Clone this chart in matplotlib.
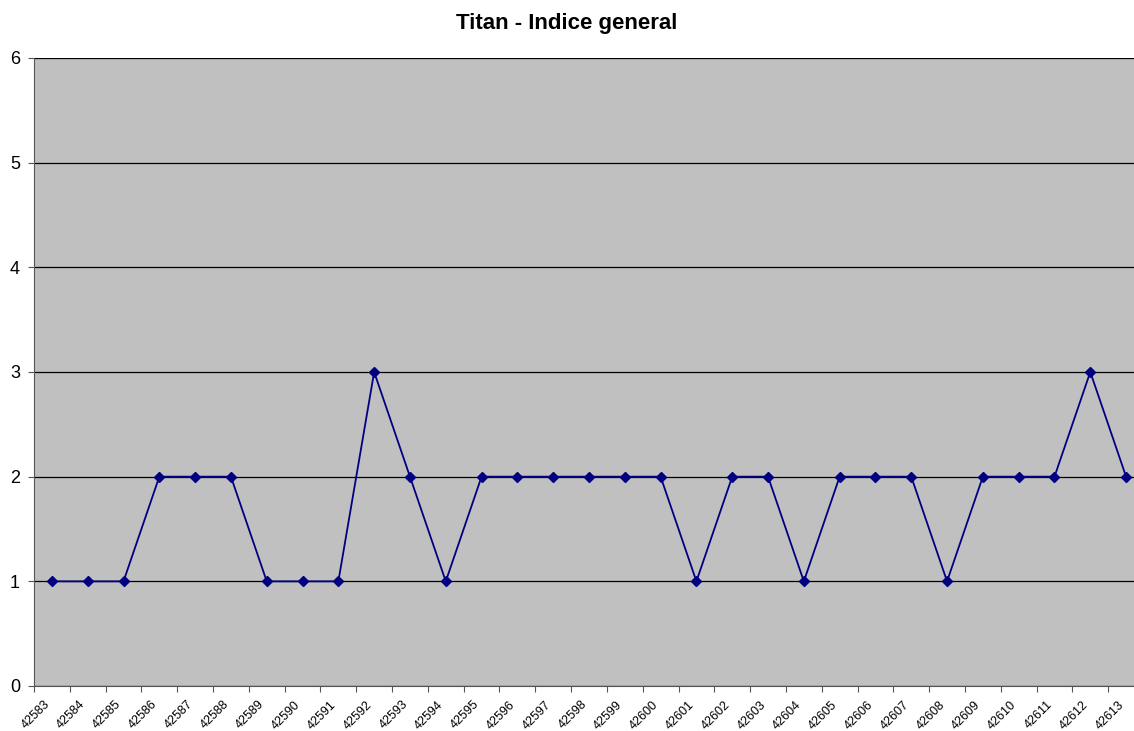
import matplotlib
matplotlib.use("Agg")
from matplotlib import pyplot as plt

plt.rcParams['font.family'] = ['Liberation Sans', 'DejaVu Sans']

dates = [str(d) for d in range(42583, 42614)]
values = [1, 1, 1, 2, 2, 2, 1, 1, 1, 3, 2, 1, 2, 2, 2, 2, 2, 2, 1, 2, 2, 1,
          2, 2, 2, 1, 2, 2, 2, 3, 2]
y_ticks = [0, 1, 2, 3, 4, 5, 6]


def main():
    fig = plt.figure(figsize=(11.34, 7.31), dpi=100)
    # plot area runs a little past the right edge of the image, as in the original
    ax = fig.add_axes([34 / 1134, 45 / 731, 1110 / 1134, 628 / 731])
    ax.set_facecolor('#C0C0C0')

    x = range(len(values))
    ax.plot(x, values, color='#000080', linewidth=1.3, marker='D',
            markersize=5.5, zorder=3, clip_on=False)

    ax.set_xlim(-0.5, len(values) - 0.5)
    ax.set_ylim(0, 6)
    ax.set_yticks(y_ticks)
    ax.set_yticklabels([str(v) for v in y_ticks], fontsize=13)
    ax.yaxis.grid(True, color='black', linewidth=0.9)
    ax.set_axisbelow(True)

    # ticks between categories, labels at category centres
    ax.set_xticks([i - 0.5 for i in range(len(values) + 1)])
    ax.set_xticklabels([])
    ax.set_xticks(list(x), minor=True)
    ax.set_xticklabels(dates, minor=True, rotation=45, ha='right',
                       va='top', fontsize=9)
    ax.tick_params(axis='x', which='minor', length=0, pad=9)
    ax.tick_params(axis='x', which='major', length=4, color='#555555')
    ax.tick_params(axis='y', length=4, color='#555555', pad=6)

    for side in ['top', 'right']:
        ax.spines[side].set_visible(False)
    ax.spines['left'].set_color('#555555')
    ax.spines['bottom'].set_color('#555555')

    fig.text(0.5, 1 - 23 / 731, 'Titan - Indice general', ha='center',
             va='center', fontsize=16, fontweight='bold')

    fig.savefig('out.png', dpi=100)


if __name__ == '__main__':
    main()
